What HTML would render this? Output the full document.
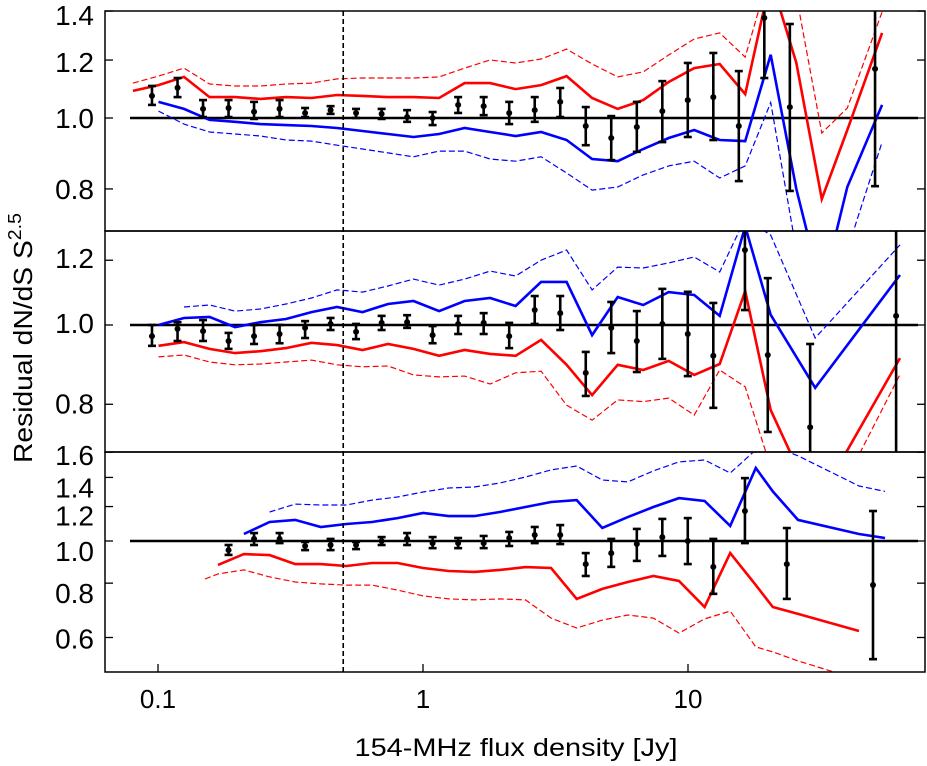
<!DOCTYPE html>
<html><head><meta charset="utf-8"><style>
html,body{margin:0;padding:0;background:#fff}
svg{display:block;font-family:"Liberation Sans",Arial,sans-serif}
</style></head><body>
<svg id="chart" width="927" height="766" viewBox="0 0 927 766" xmlns="http://www.w3.org/2000/svg">
<text x="516" y="756" font-size="25" text-anchor="middle" textLength="323" lengthAdjust="spacingAndGlyphs">154-MHz flux density [Jy]</text>
<text transform="translate(32,338) rotate(-90)" font-size="26" text-anchor="middle" textLength="250" lengthAdjust="spacingAndGlyphs">Residual dN/dS S<tspan dy="-11" font-size="18">2.5</tspan></text>
</svg>
<script>
// ---------- data ----------
const topPointFlux=[0.0949,0.1185,0.1479,0.1846,0.2304,0.2876,0.359,0.448,0.559,0.698,0.871,1.087,1.357,1.694,2.115,2.64,3.295,4.113,5.133,6.41,8.0,9.98,12.46,15.55,19.41,24.23,50.8];
const topPointVal=[1.072,1.10,1.029,1.032,1.02,1.029,1.016,1.025,1.016,1.013,1.003,1.0,1.042,1.038,1.016,1.025,1.052,0.975,0.939,0.972,1.022,1.058,1.068,0.975,1.37,1.035,1.167];
const topPointLo=[1.042,1.068,1.003,1.003,0.997,1.003,1.003,1.013,1.0,0.997,0.988,0.978,1.016,1.009,0.981,0.988,1.003,0.918,0.876,0.899,0.927,0.942,0.933,0.820,1.134,0.795,0.807];
const topPointHi=[1.106,1.134,1.058,1.058,1.052,1.058,1.032,1.038,1.029,1.029,1.025,1.019,1.068,1.068,1.052,1.068,1.099,1.035,1.006,1.052,1.123,1.189,1.227,1.159,1.6,1.344,1.6];
const topLineFlux=[0.0804,0.1004,0.1253,0.1564,0.1952,0.2436,0.304,0.3795,0.4737,0.5913,0.738,0.921,1.150,1.435,1.791,2.236,2.791,3.483,4.348,5.427,6.774,8.455,10.55,13.17,16.44,20.52,25.62,31.98,39.9,54];
const topRed=[1.089,1.109,1.138,1.068,1.068,1.062,1.068,1.065,1.075,1.072,1.068,1.068,1.065,1.116,1.116,1.095,1.109,1.141,1.065,1.029,1.058,1.120,1.170,1.185,1.078,1.55,1.19,0.775,0.963,1.307];
const topRedDash=[1.116,1.141,1.170,1.113,1.106,1.106,1.113,1.116,1.131,1.134,1.134,1.134,1.138,1.170,1.200,1.189,1.204,1.242,1.185,1.138,1.156,1.219,1.282,1.307,1.211,1.6,1.47,0.954,1.032,1.396];
const topBlue=[null,1.052,1.029,0.994,0.988,0.981,0.978,0.975,0.969,0.960,0.951,0.942,0.951,0.969,0.957,0.945,0.957,0.933,0.879,0.873,0.907,0.939,0.963,0.933,0.93,1.22,0.80,0.58,0.805,1.042];
const topBlueDash=[null,1.022,0.981,0.957,0.951,0.945,0.933,0.930,0.918,0.907,0.896,0.885,0.901,0.901,0.879,0.873,0.885,0.841,0.797,0.805,0.836,0.860,0.873,0.828,0.86,1.05,0.66,0.53,0.66,0.927];

const midPointFlux=[0.0949,0.1185,0.1479,0.1846,0.2304,0.2876,0.359,0.448,0.559,0.698,0.871,1.087,1.357,1.694,2.115,2.64,3.295,4.113,5.133,6.41,8.0,9.98,12.46,16.4,20.0,28.9,61.0];
const midPointVal=[0.969,0.989,0.983,0.956,0.969,0.975,0.992,1.003,0.981,1.006,1.008,0.972,1.003,1.006,0.969,1.043,1.034,0.874,0.992,0.956,1.003,0.975,0.917,1.235,0.919,0.750,1.026];
const midPointLo=[0.943,0.956,0.956,0.935,0.948,0.950,0.964,0.986,0.961,0.986,0.992,0.950,0.975,0.975,0.937,1.003,0.986,0.819,0.924,0.876,0.909,0.866,0.792,1.043,0.740,0.60,0.60];
const midPointHi=[1.0,1.008,1.014,0.978,1.0,1.0,1.011,1.020,1.003,1.026,1.028,0.997,1.026,1.034,1.006,1.085,1.085,0.927,1.067,1.040,1.107,1.098,1.064,1.40,1.141,0.948,1.40];
const midLineFlux=[0.1004,0.1253,0.1564,0.1952,0.2436,0.304,0.3795,0.4737,0.5913,0.738,0.921,1.150,1.435,1.791,2.236,2.791,3.483,4.348,5.427,6.774,8.455,10.55,13.17,16.44,20.52,30.2,63.1];
const midBlue=[1.0,1.020,1.023,0.994,1.008,1.017,1.037,1.052,1.037,1.061,1.070,1.040,1.070,1.079,1.055,1.129,1.129,0.972,1.082,1.058,1.097,1.088,1.026,1.32,1.029,0.838,1.151];
const midRed=[0.943,0.953,0.935,0.924,0.929,0.937,0.951,0.945,0.932,0.948,0.935,0.917,0.932,0.922,0.917,0.959,0.894,0.821,0.894,0.881,0.904,0.869,0.896,1.10,0.787,0.60,0.911];
const midBlueDash=[null,1.052,1.058,1.040,1.046,1.061,1.079,1.104,1.097,1.116,1.138,1.119,1.138,1.164,1.148,1.20,1.235,1.104,1.177,1.174,1.191,1.211,1.161,1.35,1.288,0.964,1.253];
const midRedDash=[0.914,0.919,0.901,0.894,0.896,0.901,0.906,0.894,0.889,0.891,0.869,0.864,0.866,0.847,0.874,0.878,0.798,0.765,0.81,0.806,0.814,0.776,0.881,0.84,0.67,0.545,0.87];

const botPointFlux=[0.1846,0.2304,0.2876,0.359,0.448,0.559,0.698,0.871,1.087,1.357,1.694,2.115,2.64,3.295,4.113,5.133,6.41,8.0,9.98,12.46,16.4,23.6,49.9];
const botPointVal=[0.953,1.011,1.011,0.974,0.979,0.979,1.0,1.011,0.989,0.989,0.989,1.016,1.032,1.032,0.885,0.938,0.984,1.021,1.0,0.872,1.172,0.885,0.792];
const botPointLo=[0.929,0.979,0.989,0.953,0.953,0.958,0.979,0.979,0.963,0.963,0.963,0.974,0.989,0.984,0.831,0.872,0.900,0.924,0.885,0.756,0.989,0.736,0.535];
const botPointHi=[0.979,1.043,1.043,0.995,1.011,0.995,1.021,1.043,1.021,1.016,1.027,1.049,1.077,1.088,0.938,1.011,1.066,1.124,1.129,1.011,1.395,1.071,1.172];
const botLineFlux=[0.1504,0.1685,0.211,0.2637,0.3294,0.4114,0.5138,0.6418,0.8016,1.001,1.250,1.562,1.951,2.436,3.043,3.801,4.747,5.929,7.406,9.25,11.55,14.43,18.02,20.9,26.0,44.2,55.4];
const botBlue=[null,null,1.038,1.106,1.118,1.077,1.094,1.106,1.129,1.160,1.141,1.141,1.166,1.197,1.229,1.242,1.071,1.135,1.197,1.255,1.236,1.083,1.472,1.30,1.118,1.038,1.016];
const botBlueDash=[null,null,null,1.166,1.216,1.21,1.21,1.242,1.262,1.296,1.324,1.331,1.359,1.403,1.457,1.487,1.381,1.367,1.449,1.52,1.535,1.433,1.62,1.65,1.57,1.338,1.30];
const botRed=[null,0.881,0.933,0.928,0.885,0.885,0.876,0.890,0.890,0.867,0.853,0.849,0.858,0.871,0.867,0.736,0.776,0.805,0.831,0.809,0.705,0.938,0.792,0.705,0.68,0.621,null];
const botRedDash=[0.818,0.840,0.858,0.827,0.805,0.797,0.792,0.792,0.771,0.748,0.736,0.732,0.736,0.732,0.665,0.631,0.658,0.676,0.665,0.614,0.662,0.69,0.571,0.556,0.53,0.48,0.45];

const xTickVals=[0.1,1,10];
const xTickLabels=["0.1","1","10"];
const topTicks=[1.4,1.2,1.0,0.8];
const midTicks=[1.2,1.0,0.8];
const botTicks=[1.6,1.4,1.2,1.0,0.8,0.6];
const cutFlux=0.5;

// ---------- drawing ----------
const NS="http://www.w3.org/2000/svg";
const svg=document.getElementById('chart');
const X0=105,X1=925;
function xs(v){return 423+265*Math.log10(v);}
function mk(tag,attrs,parent){const e=document.createElementNS(NS,tag);for(const k in attrs)e.setAttribute(k,attrs[k]);(parent||svg).appendChild(e);return e;}

const panels=[
 {name:'top',top:11,bot:231,c:118,k:732,ticks:topTicks,labOff:[4,2,0,0],
  pf:topPointFlux,pv:topPointVal,pl:topPointLo,ph:topPointHi,lf:topLineFlux,
  lines:[[topRedDash,'#f00',1.2,true,'red-dashed'],[topBlueDash,'#00f',1.2,true,'blue-dashed'],[topRed,'#f00',2.6,false,'red-solid'],[topBlue,'#00f',2.6,false,'blue-solid']]},
 {name:'middle',top:231,bot:452,c:325,k:818,ticks:midTicks,labOff:[-2,-2,-1],
  pf:midPointFlux,pv:midPointVal,pl:midPointLo,ph:midPointHi,lf:midLineFlux,
  lines:[[midRedDash,'#f00',1.2,true,'red-dashed'],[midBlueDash,'#00f',1.2,true,'blue-dashed'],[midRed,'#f00',2.6,false,'red-solid'],[midBlue,'#00f',2.6,false,'blue-solid']]},
 {name:'bottom',top:452,bot:672,c:541,k:435,ticks:botTicks,labOff:[3,10,9,10,10,1],
  pf:botPointFlux,pv:botPointVal,pl:botPointLo,ph:botPointHi,lf:botLineFlux,
  lines:[[botRedDash,'#f00',1.2,true,'red-dashed'],[botBlueDash,'#00f',1.2,true,'blue-dashed'],[botRed,'#f00',2.6,false,'red-solid'],[botBlue,'#00f',2.6,false,'blue-solid']]}
];
const defs=mk('defs',{});
panels.forEach((p,pi)=>{
  const ys=v=>p.c-p.k*Math.log10(v);
  const cp=mk('clipPath',{id:'clip'+pi},defs);
  mk('rect',{x:X0,y:p.top,width:X1-X0,height:p.bot-p.top},cp);
  const g=mk('g',{'clip-path':'url(#clip'+pi+')'});
  
  
  const ref=mk('line',{x1:130,x2:918,y1:ys(1),y2:ys(1),stroke:'#000','stroke-width':2.6},g);
  
  
  p.lines.forEach(L=>{
    const arr=L[0];let d='';let pen=false;
    for(let i=0;i<arr.length;i++){
      if(arr[i]==null){pen=false;continue;}
      d+=(pen?'L':'M')+xs(p.lf[i]).toFixed(1)+' '+ys(arr[i]).toFixed(1)+' ';pen=true;
    }
    const a={d:d,fill:'none',stroke:L[1],'stroke-width':L[2],'stroke-linejoin':'miter'};
    if(L[3])a['stroke-dasharray']='6 3';
    const path=mk('path',a,g);
    
    
  });
  for(let i=0;i<p.pf.length;i++){
    const x=xs(p.pf[i]),y1=ys(p.ph[i]),y2=ys(p.pl[i]);
    const pg=mk('g',{},g);
    
    
    mk('line',{x1:x,x2:x,y1:y1,y2:y2,stroke:'#000','stroke-width':2.6},pg);
    mk('line',{x1:x-4,x2:x+4,y1:y1,y2:y1,stroke:'#000','stroke-width':2.6},pg);
    mk('line',{x1:x-4,x2:x+4,y1:y2,y2:y2,stroke:'#000','stroke-width':2.6},pg);
    mk('circle',{cx:x,cy:ys(p.pv[i]),r:3,fill:'#000'},pg);
  }
  const fr=mk('rect',{x:X0,y:p.top,width:X1-X0,height:p.bot-p.top,fill:'none',stroke:'#000','stroke-width':1.5});
  
  
  p.ticks.forEach((t,ti)=>{
    const y=ys(t);
    mk('line',{x1:X0,x2:X0+8,y1:y,y2:y,stroke:'#000','stroke-width':1.3});
    mk('line',{x1:X1-8,x2:X1,y1:y,y2:y,stroke:'#000','stroke-width':1.3});
    const tx=mk('text',{x:94,y:y+p.labOff[ti]+10,'font-size':28,'text-anchor':'end'});
    tx.textContent=t.toFixed(1);
    
    
  });
});
xTickVals.forEach((v,i)=>{
  const x=xs(v);
  mk('line',{x1:x,x2:x,y1:664,y2:672,stroke:'#000','stroke-width':1.3});
  const tx=mk('text',{x:x,y:708,'font-size':26,'text-anchor':'middle'});
  tx.textContent=xTickLabels[i];
  
  
});
const cut=mk('line',{x1:xs(cutFlux),x2:xs(cutFlux),y1:11,y2:672,stroke:'#000','stroke-width':1.6,'stroke-dasharray':'5 3'});


</script>
</body></html>
